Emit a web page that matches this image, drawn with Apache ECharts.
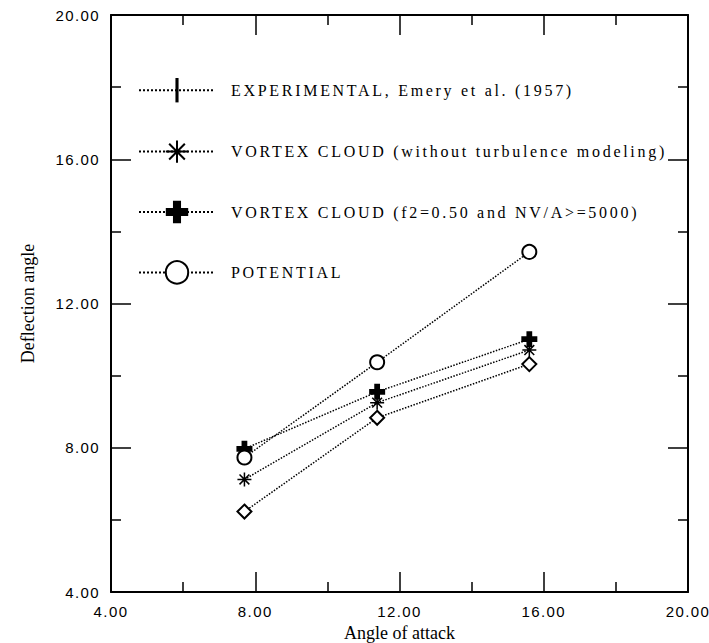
<!DOCTYPE html>
<html>
<head>
<meta charset="utf-8">
<script src="https://cdn.jsdelivr.net/npm/echarts@6/dist/echarts.min.js"></script>
<style>
html, body { margin: 0; padding: 0; background: #fff; }
#chart { width: 709px; height: 643px; }
/* the scanned figure has very wide letter spacing */
#chart text[style*="16px"] { letter-spacing: 2.7px; }
#chart text[style*="15px"] { letter-spacing: 1.4px; }
</style>
</head>
<body>
<div id="chart"></div>
<script>
var attack = [7.7, 11.38, 15.6];
var experimental = [6.23, 8.83, 10.32];
var vortexNoTurb = [7.12, 9.25, 10.71];
var vortexF2 = [7.97, 9.55, 11.01];
var potential = [7.73, 10.37, 13.43];
var axisTicks = [4, 8, 12, 16, 20];

var names = [
  'EXPERIMENTAL, Emery et al. (1957)',
  'VORTEX CLOUD (without turbulence modeling)',
  'VORTEX CLOUD (f2=0.50 and NV/A>=5000)',
  'POTENTIAL'
];

// thin vertical bar, with empty points so the box stays square
var barPath = 'path://M0,10L0,10M20,10L20,10M9.5,0H10.5V20H9.5Z';
var starPath = 'path://M5,0V10M0,5H10M1.5,1.5L8.5,8.5M8.5,1.5L1.5,8.5';
var plusPath = 'path://M3.2,0H6.8V3.2H10V6.8H6.8V10H3.2V6.8H0V3.2H3.2Z';

function pairs(ys, sym) {
  return ys.map(function (y, i) {
    var p = { value: [attack[i], y] };
    if (sym) p.symbol = sym;
    return p;
  });
}

var lineStyle = { color: '#000', width: 1.5, type: 'dotted' };
var itemStyle = { color: '#000', borderColor: '#000', borderWidth: 1.5 };

var dom = document.getElementById('chart');
var myChart = echarts.init(dom, null, { renderer: 'svg' });

var tickMin = axisTicks[0], tickMax = axisTicks[axisTicks.length - 1];
var step = axisTicks[1] - axisTicks[0];

function makeAxis(pos, main, name) {
  return {
    type: 'value',
    position: pos,
    min: tickMin,
    max: tickMax,
    interval: step,
    name: main ? name : '',
    nameLocation: 'middle',
    nameGap: pos === 'left' ? 74 : 24,
    nameTextStyle: { fontFamily: 'Liberation Serif', fontSize: 18, color: '#000' },
    axisLine: { show: true, onZero: false, lineStyle: { color: '#000', width: 2 } },
    axisTick: { show: true, inside: true, length: 20, lineStyle: { color: '#000', width: 1.5 } },
    minorTick: { show: true, splitNumber: 2, length: 10, lineStyle: { color: '#000', width: 1.5 } },
    splitLine: { show: false },
    axisLabel: {
      show: main,
      margin: pos === 'left' ? 11 : 12,
      fontFamily: 'Liberation Sans',
      fontSize: 15,
      color: '#000',
      formatter: function (v) { return v.toFixed(2); }
    }
  };
}

option = {
  animation: false,
  backgroundColor: '#fff',
  grid: { left: 111, right: 21, top: 15, bottom: 51, outerBoundsMode: 'none' },
  xAxis: [makeAxis('bottom', true, 'Angle of attack'), makeAxis('top', false)],
  yAxis: [makeAxis('left', true, 'Deflection angle'), makeAxis('right', false)],
  legend: {
    orient: 'vertical',
    left: 133,
    top: 73,
    itemWidth: 76,
    itemHeight: 28,
    itemGap: 37,
    data: names,
    textStyle: { fontFamily: 'Liberation Serif', fontSize: 16, color: '#000', padding: [0, 0, 0, 11] }
  },
  series: [
    {
      name: names[0], type: 'line', symbol: barPath, symbolSize: 14,
      data: pairs(experimental, 'emptyDiamond'),
      lineStyle: lineStyle, itemStyle: itemStyle
    },
    {
      name: names[1], type: 'line', symbol: starPath, symbolSize: 14,
      data: pairs(vortexNoTurb),
      lineStyle: lineStyle, itemStyle: itemStyle
    },
    {
      name: names[2], type: 'line', symbol: plusPath, symbolSize: 16,
      data: pairs(vortexF2),
      lineStyle: lineStyle, itemStyle: { color: '#000', borderWidth: 0 }
    },
    {
      name: names[3], type: 'line', symbol: 'emptyCircle', symbolSize: 14,
      data: pairs(potential),
      lineStyle: lineStyle, itemStyle: itemStyle
    }
  ]
};

if (option && typeof option === 'object') {
  myChart.setOption(option, true);
}
</script>
</body>
</html>
